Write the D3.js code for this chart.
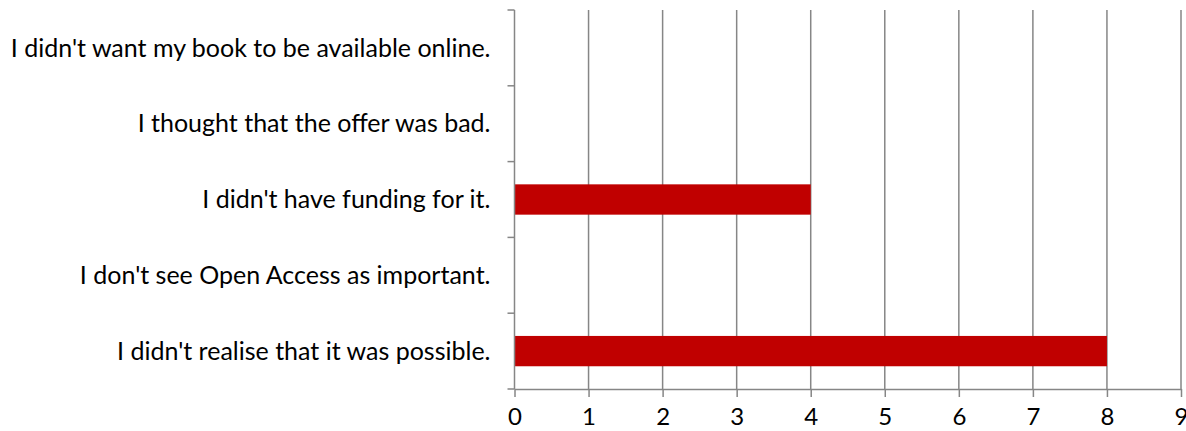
<!DOCTYPE html>
<html lang="en">
<head>
<meta charset="UTF-8"/>
<script src="https://d3js.org/d3.v7.min.js"></script>
<style>
  body { margin: 0; background: #fff; }
  svg { display: block; font-family: Lato, "Open Sans", sans-serif; }
  .grid line { stroke: #868686; stroke-width: 1.5px; }
  .axis path, .axis line { stroke: #868686; stroke-width: 1.5px; }
  .axis text { fill: #000; }
</style>
</head>
<body>
<svg id="chart" width="1186" height="431"></svg>
<script>
// categories top to bottom
const categories = [
  "I didn't want my book to be available online.",
  "I thought that the offer was bad.",
  "I didn't have funding for it.",
  "I don't see Open Access as important.",
  "I didn't realise that it was possible."
];
const counts = [0, 0, 4, 0, 8];
const xTicks = [0, 1, 2, 3, 4, 5, 6, 7, 8, 9];

const svg = d3.select("#chart");
const plotL = 514.5, plotR = 1181, plotT = 10, plotB = 389;

const x = d3.scaleLinear().domain([0, 9]).range([plotL, plotR]);
const y = d3.scaleBand().domain(categories).range([plotT, plotB]).padding(0);
const bw = y.bandwidth();

// vertical gridlines
svg.append("g").attr("class", "grid")
  .selectAll("line").data(xTicks.slice(1)).enter().append("line")
  .attr("x1", d => x(d)).attr("x2", d => x(d))
  .attr("y1", plotT).attr("y2", plotB);

// bars
svg.append("g").selectAll("rect").data(categories).enter().append("rect")
  .attr("x", x(0))
  .attr("y", d => y(d) + bw * 0.3)
  .attr("width", (d, i) => x(counts[i]) - x(0))
  .attr("height", bw * 0.4)
  .attr("fill", "#c00000");

// y axis: ticks at band boundaries
const yAxis = svg.append("g").attr("class", "axis");
yAxis.append("line").attr("x1", plotL).attr("x2", plotL).attr("y1", plotT).attr("y2", plotB);
const bounds = categories.map(c => y(c)).concat([plotB]);
yAxis.selectAll("line.tk").data(bounds).enter().append("line").attr("class", "tk")
  .attr("x1", plotL - 7).attr("x2", plotL).attr("y1", d => d).attr("y2", d => d);
yAxis.selectAll("text").data(categories).enter().append("text")
  .attr("x", plotL - 24)
  .attr("y", d => y(d) + bw / 2)
  .attr("dy", "0.35em")
  .attr("text-anchor", "end")
  .style("font-size", "25px")
  .text(d => d);

// x axis
const xAxis = svg.append("g").attr("class", "axis")
  .attr("transform", `translate(0,${plotB})`)
  .call(d3.axisBottom(x).tickValues(xTicks).tickSize(8).tickPadding(11).tickSizeOuter(0));
xAxis.attr("font-family", null).attr("font-size", null);
xAxis.selectAll("text").style("font-size", "24px");
</script>
</body>
</html>
